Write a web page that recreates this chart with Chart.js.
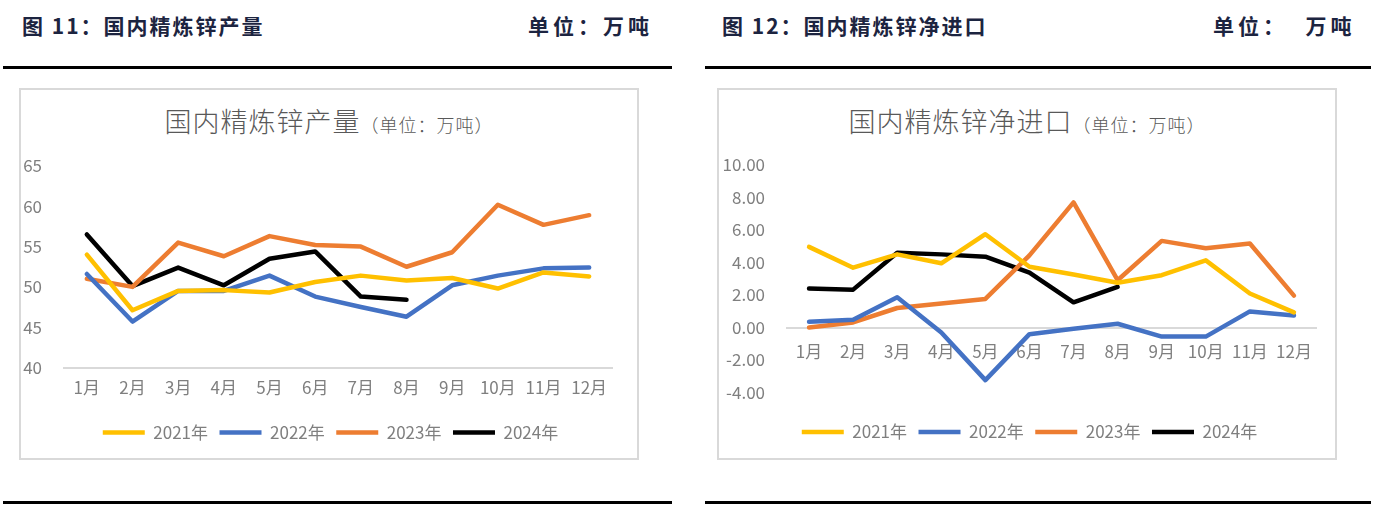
<!DOCTYPE html>
<html>
<head>
<meta charset="utf-8">
<script src="https://cdn.jsdelivr.net/npm/chart.js@4/dist/chart.umd.min.js"></script>
<style>
    body { margin: 0; width: 1391px; height: 514px; background: #fff; position: relative; overflow: hidden; font-family: "Noto Sans CJK SC", sans-serif; }
    .hd { position: absolute; top: 10px; font-size: 21px; font-weight: bold; color: #1c2440; letter-spacing: 2px; white-space: nowrap; }
    .rule { position: absolute; height: 3px; background: #000; }
    .caja { position: absolute; top: 88px; width: 616px; height: 368px; border: 2px solid #d9d9d9; }
    .caja canvas { position: absolute; left: 0; top: 0; }
    .tit { position: absolute; top: 11px; left: 0; width: 100%; text-align: center; color: #595959; font-size: 27px; letter-spacing: 1px; white-space: nowrap; font-weight: 300; }
    .tit span { font-size: 18px; letter-spacing: 1px; }
</style>
</head>
<body>

<div class="hd" style="left:22px">图 11：国内精炼锌产量</div>
<div class="hd" style="left:528px; letter-spacing:4px">单位：万吨</div>
<div class="hd" style="left:722px">图 12：国内精炼锌净进口</div>
<div class="hd" style="left:1213px; letter-spacing:4px">单位：&nbsp;&nbsp;万吨</div>

<div class="rule" style="left:3px; width:669px; top:66px"></div>
<div class="rule" style="left:705px; width:666px; top:66px"></div>
<div class="rule" style="left:3px; width:669px; top:501px"></div>
<div class="rule" style="left:705px; width:666px; top:501px"></div>

<div class="caja" style="left:19px">
    <div class="tit">国内精炼锌产量<span>（单位：万吨）</span></div>
    <canvas id="grafico-1" width="616" height="368"></canvas>
</div>
<div class="caja" style="left:717px">
    <div class="tit">国内精炼锌净进口<span>（单位：万吨）</span></div>
    <canvas id="grafico-2" width="616" height="368"></canvas>
</div>

<script>
// Datos
var meses = ['1月', '2月', '3月', '4月', '5月', '6月', '7月', '8月', '9月', '10月', '11月', '12月'];
var anios = ['2021年', '2022年', '2023年', '2024年'];
var colores = ['#FFC000', '#4472C4', '#ED7D31', '#000000'];

// Produccion (万吨)
var prod2021 = [54.0, 47.1, 49.5, 49.6, 49.3, 50.6, 51.4, 50.8, 51.1, 49.8, 51.8, 51.3];
var prod2022 = [51.6, 45.7, 49.5, 49.5, 51.4, 48.8, 47.5, 46.3, 50.2, 51.4, 52.3, 52.4];
var prod2023 = [51.0, 50.0, 55.5, 53.8, 56.3, 55.2, 55.0, 52.5, 54.3, 60.2, 57.7, 58.9];
var prod2024 = [56.5, 50.1, 52.4, 50.2, 53.5, 54.4, 48.8, 48.4];
var ticksProd = { min: 40, max: 65, step: 5 };

// Importacion neta (万吨)
var imp2021 = [4.96, 3.68, 4.50, 3.95, 5.74, 3.74, 3.26, 2.75, 3.22, 4.13, 2.09, 0.93];
var imp2022 = [0.35, 0.48, 1.86, -0.31, -3.24, -0.41, -0.08, 0.23, -0.56, -0.56, 0.99, 0.74];
var imp2023 = [0.00, 0.31, 1.20, 1.47, 1.76, 4.44, 7.70, 2.91, 5.33, 4.88, 5.17, 1.96];
var imp2024 = [2.40, 2.33, 4.60, 4.50, 4.36, 3.37, 1.55, 2.50];
var ticksImp = { min: -4, max: 10, step: 2 };

var fuente = "'Noto Sans CJK SC', sans-serif";
var gris = '#7f7f7f';

//Movemos la leyenda despues del layout (Excel no la centra igual)
var moverLeyenda = {
    id: 'moverLeyenda',
    afterLayout: function (chart, args, opts) {
        var l = chart.legend;
        l.left += opts.dx; l.right += opts.dx;
        l.top += opts.dy; l.bottom += opts.dy;
    }
};

function series(lista) {
    return lista.map(function (datos, i) {
        return {
            label: anios[i],
            data: datos,
            borderColor: colores[i],
            backgroundColor: colores[i],
            borderWidth: 4.5,
            borderCapStyle: 'round',
            borderJoinStyle: 'round',
            pointRadius: 0,
            tension: 0,
            fill: false
        };
    });
}

function leyenda() {
    return {
        position: 'bottom',
        labels: {
            usePointStyle: true,
            pointStyle: 'line',
            pointStyleWidth: 42,
            color: gris,
            font: { family: fuente, size: 17 },
            padding: 11.5
        }
    };
}

function contenidoCaja1() {
    var ctx = document.getElementById('grafico-1').getContext('2d');
    return new Chart(ctx, {
        type: 'line',
        data: {
            labels: meses,
            datasets: series([prod2021, prod2022, prod2023, prod2024])
        },
        plugins: [moverLeyenda],
        options: {
            responsive: false,
            animation: false,
            layout: { padding: { top: 76, right: 25, bottom: 12, left: 0 } },
            plugins: { legend: leyenda(), tooltip: { enabled: false }, moverLeyenda: { dx: 14, dy: 5 } },
            scales: {
                x: {
                    offset: true,
                    grid: { display: false },
                    border: { color: '#d9d9d9', width: 2 },
                    ticks: { color: gris, font: { family: fuente, size: 17 }, padding: 2, maxRotation: 0 },
                    afterFit: function (s) { s.height = 40; }
                },
                y: {
                    min: ticksProd.min,
                    max: ticksProd.max,
                    grid: { display: false },
                    border: { display: false },
                    ticks: { stepSize: ticksProd.step, color: gris, font: { family: fuente, size: 17 }, padding: 14 },
                    afterFit: function (s) { s.width = 43; }
                }
            }
        }
    });
}

function contenidoCaja2() {
    var ctx = document.getElementById('grafico-2').getContext('2d');
    return new Chart(ctx, {
        type: 'line',
        data: {
            labels: meses,
            datasets: series([imp2021, imp2022, imp2023, imp2024])
        },
        plugins: [moverLeyenda],
        options: {
            responsive: false,
            animation: false,
            layout: { padding: { top: 75, right: 19, bottom: 27, left: 0 } },
            plugins: { legend: leyenda(), tooltip: { enabled: false }, moverLeyenda: { dx: 12, dy: 19.5 } },
            scales: {
                x: {
                    offset: true,
                    position: { y: 0 },
                    grid: { display: false },
                    border: { color: '#d9d9d9', width: 2 },
                    ticks: { color: gris, font: { family: fuente, size: 17 }, padding: 6, maxRotation: 0 }
                },
                y: {
                    min: ticksImp.min,
                    max: ticksImp.max,
                    grid: { display: false },
                    border: { display: false },
                    ticks: {
                        stepSize: ticksImp.step, color: gris, font: { family: fuente, size: 17 }, padding: 14,
                        callback: function (v) { return v.toFixed(2); }
                    },
                    afterFit: function (s) { s.width = 68; }
                }
            }
        }
    });
}

contenidoCaja1();
contenidoCaja2();
</script>
</body>
</html>
